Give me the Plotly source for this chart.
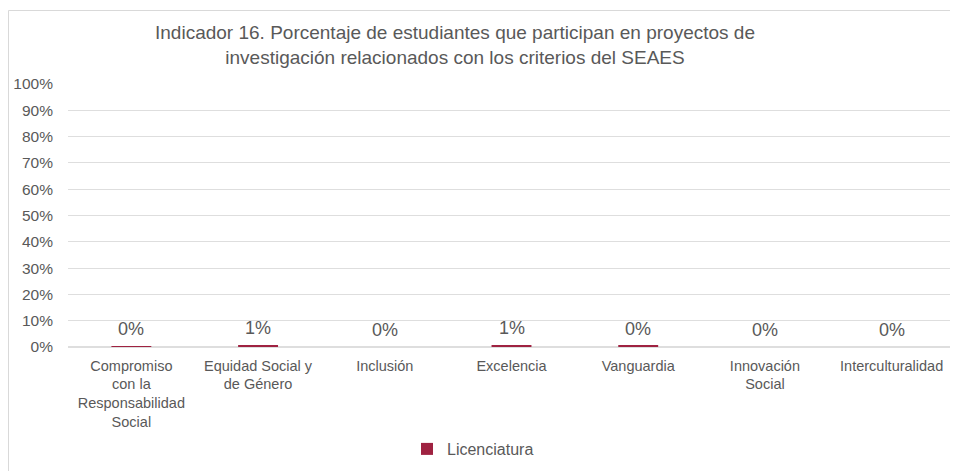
import plotly.graph_objects as go

categories = ["Compromiso<br>con la<br>Responsabilidad<br>Social", "Equidad Social y<br>de Género", "Inclusión",
              "Excelencia", "Vanguardia", "Innovación<br>Social", "Interculturalidad"]
licenciatura = [0.003, 0.008, 0.0, 0.008, 0.004, 0.0, 0.0]
series_name = "Licenciatura"
title_text = "Indicador 16. Porcentaje de estudiantes que participan en proyectos de<br>investigación relacionados con los criterios del SEAES"

FONT = "Liberation Sans, Arial, sans-serif"
GREY = "#595959"
W, H = 950, 463
L, R, T, B = 60, 3, 76, 124
PW, PH = W - L - R, H - T - B

fig = go.Figure()
fig.add_trace(go.Bar(
    x=categories, y=licenciatura, name=series_name,
    marker_color="#9F2241", marker_line_width=0,
    showlegend=True,
))

annotations = [dict(x=c, y=v, xref="x", yref="y", text=f"{v:.0%}", showarrow=False,
                    yanchor="bottom", yshift=5,
                    font=dict(family=FONT, size=18, color=GREY))
               for c, v in zip(categories, licenciatura)]

fig.update_layout(
    width=W, height=H,
    margin=dict(l=L, r=R, t=T, b=B),
    paper_bgcolor="white", plot_bgcolor="white",
    bargap=0.685,
    title=dict(text=title_text, x=447 / W, xref="container", xanchor="center",
               y=1 - 31 / H, yref="container", yanchor="top",
               font=dict(family=FONT, size=19, color=GREY)),
    yaxis=dict(range=[0, 1], dtick=0.1, tickformat=".0%", gridcolor="#dedede", gridwidth=1,
               zeroline=True, zerolinecolor="#dedede", showline=False,
               tickfont=dict(family=FONT, size=15.5, color=GREY), ticks="", ticklabelstandoff=14),
    xaxis=dict(tickfont=dict(family=FONT, size=14.5, color=GREY), showline=False, ticks="",
               tickangle=0, ticklabelstandoff=8),
    legend=dict(orientation="h", x=(399 - L) / PW, xanchor="left", y=-(424 - (T + PH)) / PH, yanchor="top",
                font=dict(family=FONT, size=16, color=GREY)),
    annotations=annotations,
    shapes=[dict(type="rect", xref="paper", yref="paper",
                 x0=-(L - 0.5) / PW, x1=1 + 10 / PW, y0=-(B + 5) / PH, y1=1 + (T - 2.5) / PH,
                 line=dict(color="#d9d9d9", width=1), fillcolor="rgba(0,0,0,0)", layer="below")],
)

fig.write_html("out.html")
